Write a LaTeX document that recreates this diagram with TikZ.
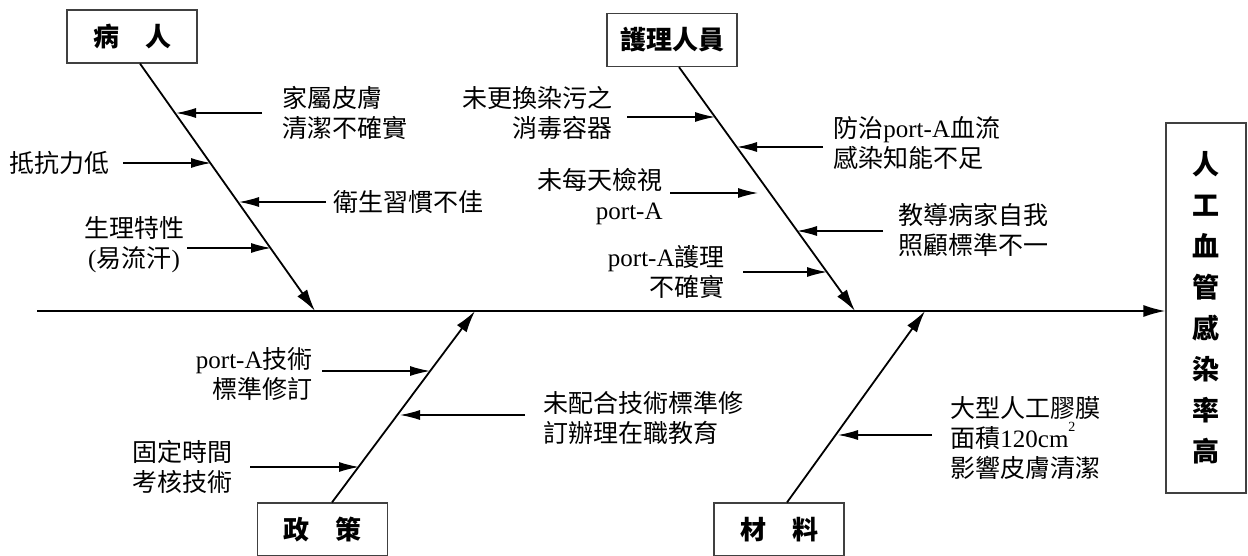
\documentclass[tikz,border=0pt]{standalone}
\usepackage{fontspec}
\setmainfont{Noto Sans CJK TC}
\newfontfamily\latf{Liberation Serif}
\newcommand\lt[1]{{\latf #1}}
\usetikzlibrary{arrows.meta,calc}
\begin{document}
\begin{tikzpicture}[x=0.5pt,y=-0.5pt,
  box/.style={draw=black!75, line width=0.6pt, minimum width=65pt, minimum height=26.5pt, inner sep=0pt, font=\bfseries\fontsize{13}{15}\selectfont},
  effbox/.style={draw=black!75, line width=0.6pt, minimum width=40pt, minimum height=185pt, inner sep=0pt, align=center, font=\bfseries\fontsize{13.5}{20.5}\selectfont},
  txt/.style={inner sep=0pt, font=\fontsize{12.5}{15}\selectfont},
  cause/.style={line width=0.6pt, -{Latex[length=10pt,width=5pt]}},
  bone/.style={line width=0.9pt, -{Latex[length=11pt,width=6pt]}},
]
\clip (0,0) rectangle (1248,556);
\fill[white] (0,0) rectangle (1248,556);

% category boxes and effect box
\node[box] (pat) at (132,36.5) {病\hspace{1em}人};
\node[box] (nur) at (672,40) {護理人員};
\node[box] (pol) at (322.5,529.5) {政\hspace{1em}策};
\node[box] (mat) at (779,529.5) {材\hspace{1em}料};
\node[effbox] (eff) at (1206,308) {人\\工\\血\\管\\感\\染\\率\\高};

% spine
\coordinate (s0) at (37,311);
\draw[bone] (s0) -- (eff.west |- s0);

% bone ends on spine
\coordinate (bp) at (315,311);
\coordinate (bn) at (855,311);
\coordinate (bc) at (475,311);
\coordinate (bm) at (925,311);
\draw[bone] ([xshift=4pt]pat.south) -- (bp);
\draw[bone] ([xshift=3.5pt]nur.south) -- (bn);
\draw[bone] ([xshift=4.75pt]pol.north) -- (bc);
\draw[bone] ([xshift=4pt]mat.north) -- (bm);

% arrow tips on bones
\coordinate (tp1) at (176,113);
\coordinate (tp2) at (211,163);
\coordinate (tp3) at (239,202);
\coordinate (tp4) at (271,248);
\coordinate (tn1) at (715,117);
\coordinate (tn2) at (737,147);
\coordinate (tn3) at (758,193);
\coordinate (tn4) at (797,231);
\coordinate (tn5) at (827,272);
\coordinate (tc1) at (430,371);
\coordinate (tc2) at (400,415);
\coordinate (tc3) at (359,467);
\coordinate (tm1) at (838,435);

% patient causes
\node[txt, anchor=west, align=left] (pa1) at (282,113) {家屬皮膚\\清潔不確實};
\node[txt, anchor=east] (pa2) at (110,163) {抵抗力低};
\node[txt, anchor=west] (pa3) at (333,202) {衛生習慣不佳};
\node[txt, align=center] (pa4) at (134,245) {生理特性\\\lt{(}易流汗\lt{)}};
\draw[cause] ($(pa1.west |- tp1)+(-20,0)$) -- (tp1);
\draw[cause] ($(pa2.east |- tp2)+(13,0)$) -- (tp2);
\draw[cause] ($(pa3.west |- tp3)+(-7,0)$) -- (tp3);
\draw[cause] ($(pa4.east |- tp4)+(3,0)$) -- (tp4);

% nurse causes
\node[txt, anchor=east, align=right] (nu1) at (613,113) {未更換染污之\\消毒容器};
\node[txt, anchor=west, align=left] (nu2) at (833,143) {防治\lt{port-A}血流\\感染知能不足};
\node[txt, anchor=east, align=right] (nu3) at (663,197) {未每天檢視\\\lt{port-A}};
\node[txt, anchor=west, align=left] (nu4) at (898,230) {教導病家自我\\照顧標準不一};
\node[txt, anchor=east, align=right] (nu5) at (725,272) {\lt{port-A}護理\\不確實};
\draw[cause] ($(nu1.east |- tn1)+(14,0)$) -- (tn1);
\draw[cause] ($(nu2.west |- tn2)+(-10,0)$) -- (tn2);
\draw[cause] ($(nu3.east |- tn3)+(7,0)$) -- (tn3);
\draw[cause] ($(nu4.west |- tn4)+(-15,0)$) -- (tn4);
\draw[cause] ($(nu5.east |- tn5)+(18,0)$) -- (tn5);

% policy causes
\node[txt, anchor=east, align=right] (po1) at (313,374) {\lt{port-A}技術\\標準修訂};
\node[txt, anchor=west, align=left] (po2) at (543,418) {未配合技術標準修\\訂辦理在職教育};
\node[txt, anchor=east, align=left] (po3) at (233,467) {固定時間\\考核技術};
\draw[cause] ($(po1.east |- tc1)+(9,0)$) -- (tc1);
\draw[cause] ($(po2.west |- tc2)+(-18,0)$) -- (tc2);
\draw[cause] ($(po3.east |- tc3)+(17,0)$) -- (tc3);

% material causes
\node[txt, anchor=west, align=left] (ma1) at (950,438) {大型人工膠膜\\面積\lt{120cm}\raisebox{8pt}{\lt{\scriptsize 2}}\\影響皮膚清潔};
\draw[cause] ($(ma1.west |- tm1)+(-18,0)$) -- (tm1);
\end{tikzpicture}
\end{document}
